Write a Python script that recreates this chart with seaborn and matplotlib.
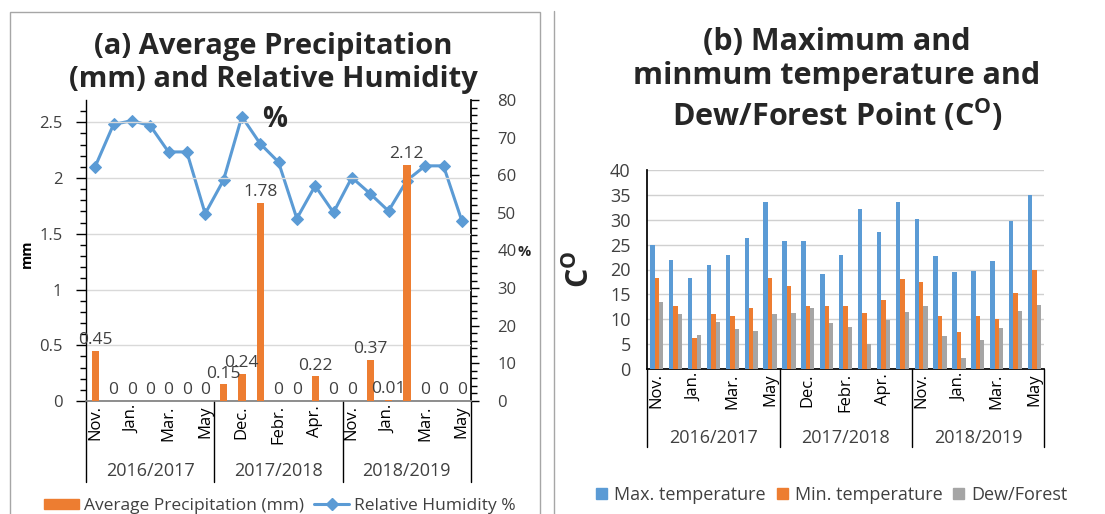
import numpy as np
import pandas as pd
import matplotlib
matplotlib.use("Agg")
import matplotlib.pyplot as plt
import seaborn as sns
from matplotlib.lines import Line2D
from matplotlib.patches import Patch, Rectangle
import matplotlib.transforms as mtransforms

# ---------------- data ----------------
years = ["2016/2017", "2017/2018", "2018/2019"]
months = [
    ["Nov.", "Dec.", "Jan.", "Feb.", "Mar.", "Apr.", "May"],
    ["Nov.", "Dec.", "Jan.", "Febr.", "Mar.", "Apr.", "May"],
    ["Nov.", "Dec.", "Jan.", "Feb.", "Mar.", "Apr.", "May"],
]
precip = [0.45, 0, 0, 0, 0, 0, 0,
          0.15, 0.24, 1.78, 0, 0, 0.22, 0,
          0, 0.37, 0.01, 2.12, 0, 0, 0]
humidity = [62.3, 73.5, 74.5, 73.2, 66.2, 66.2, 49.8,
            58.7, 75.6, 68.4, 63.5, 48.5, 57.2, 50.1,
            59.4, 55.1, 50.5, 58.6, 62.5, 62.5, 47.9]
tmax = [24.9, 21.9, 18.3, 21.0, 23.0, 26.3, 33.5,
        25.7, 25.8, 19.1, 23.0, 32.2, 27.6, 33.6,
        30.2, 22.7, 19.4, 19.6, 21.7, 29.7, 34.9]
tmin = [18.3, 12.7, 6.2, 11.1, 10.6, 12.3, 18.3,
        16.7, 12.6, 12.7, 12.7, 11.3, 13.9, 18.1,
        17.5, 10.7, 7.4, 10.7, 10.0, 15.2, 19.8]
dew = [13.4, 11.1, 6.9, 9.4, 8.0, 7.6, 11.0,
       11.3, 12.3, 9.2, 8.5, 5.0, 9.8, 11.5,
       12.7, 6.7, 2.3, 5.8, 8.2, 11.7, 12.9]
series_names = ["Max. temperature", "Min. temperature", "Dew/Forest"]

BLUE, ORANGE, GRAY = "#5B9BD5", "#ED7D31", "#A5A5A5"
TXT = "#404040"
FONT = "Open Sans"

# ---------------- style ----------------
sns.set_theme(style="white")
plt.rcParams["font.family"] = [FONT, "DejaVu Sans"]
plt.rcParams["mathtext.fontset"] = "custom"
plt.rcParams["mathtext.rm"] = FONT
plt.rcParams["mathtext.bf"] = FONT + ":bold"

W, H = 1105, 514
fig = plt.figure(figsize=(W / 100, H / 100), dpi=100)


def fx(px):
    return px / W


def fy(py):
    return 1 - py / H


flat_months = [m for ym in months for m in ym]
n = len(flat_months)
idx = np.arange(n)
per_year = [len(m) for m in months]

# panel frames
fig.add_artist(Rectangle((fx(9.5), fy(520)), fx(540) - fx(9.5), fy(12) - fy(520),
                         transform=fig.transFigure, fill=False, ec="#A6A6A6", lw=1))
fig.add_artist(Line2D([fx(554), fx(554)], [fy(11), fy(520)],
                      transform=fig.transFigure, color="#A6A6A6", lw=1))

# ================= panel (a) =================
axL = fig.add_axes([fx(86), fy(401), fx(471) - fx(86), fy(100) - fy(401)])
dfp = pd.DataFrame({"pos": idx, "precip": precip})
sns.barplot(data=dfp, x="pos", y="precip", color=ORANGE, width=0.4,
            saturation=1, ax=axL, zorder=3, linewidth=0, edgecolor="none")
axL.set_xlim(-0.5, n - 0.5)
axL.set_ylim(0, 2.7)
axL.set_yticks(np.arange(0, 2.51, 0.5))
axL.set_yticklabels(["0", "0.5", "1", "1.5", "2", "2.5"])
axL.set_yticks(np.arange(0, 2.7, 0.1), minor=True)
axL.yaxis.grid(True, which="major", color="#D9D9D9", lw=1)
axL.set_axisbelow(True)
for b, v in zip(axL.patches, precip):
    axL.annotate(f"{v:g}", (b.get_x() + b.get_width() / 2, v), xytext=(0, 2),
                 textcoords="offset points", ha="center", va="bottom",
                 fontsize=12.5, color=TXT, zorder=5)
axL.set_xlabel("")
axL.set_ylabel("mm", fontsize=10.5, fontweight="bold", color="black")
axL.yaxis.set_label_coords((34 - 86) / 385, 0.49)
for s in ["top", "right"]:
    axL.spines[s].set_visible(False)
axL.spines["left"].set_color("black")
axL.spines["left"].set_linewidth(1)
axL.spines["bottom"].set_color("#808080")
axL.tick_params(axis="y", which="major", left=True, length=7, width=1,
                color="black", labelsize=12, labelcolor=TXT, pad=10)
axL.tick_params(axis="y", which="minor", left=True, length=4, width=1, color="black")

tick_pos = idx[::2]
axL.set_xticks(tick_pos)
axL.set_xticklabels([flat_months[i] for i in tick_pos], rotation=90,
                    fontsize=12, color="black")
axL.tick_params(axis="x", length=0, pad=3)

axR = axL.twinx()
sns.lineplot(x=idx, y=humidity, ax=axR, color=BLUE, lw=2.2, marker="D",
             markersize=6.5, markeredgecolor=BLUE, zorder=4)
axR.set_ylim(0, 80)
axR.set_yticks(np.arange(0, 81, 10))
axR.set_yticks(np.arange(0, 81, 2), minor=True)
for s in ["top", "left", "bottom"]:
    axR.spines[s].set_visible(False)
axR.spines["right"].set_color("black")
axR.tick_params(axis="y", which="major", right=True, length=6, width=1,
                color="black", labelsize=12, labelcolor=TXT, pad=13)
axR.tick_params(axis="y", which="minor", right=True, length=4, width=1, color="black")
axR.set_ylabel("%", rotation=0, fontsize=10.5, fontweight="bold", va="center")
axR.yaxis.set_label_coords(438 / 385, 149 / 301)
axR.set_xlim(-0.5, n - 0.5)
axL.set_zorder(axR.get_zorder() + 1)
axL.patch.set_visible(False)


def year_groups(ax, sep_depth, label_y, fs):
    trans = mtransforms.blended_transform_factory(ax.transData, ax.transAxes)
    edges = np.concatenate([[0], np.cumsum(per_year)]) - 0.5
    for e in edges:
        ax.add_artist(Line2D([e, e], [0, sep_depth], transform=trans, color="black",
                             lw=1, clip_on=False))
    for i, y in enumerate(years):
        c = (edges[i] + edges[i + 1]) / 2
        ax.text(c, label_y, y, transform=trans, ha="center", va="center",
                fontsize=fs, color=TXT, clip_on=False)


year_groups(axL, -81 / 301, -70 / 301, 13)

fig.text(fx(273), fy(63), "(a) Average Precipitation\n(mm) and Relative Humidity",
         ha="center", va="center", fontsize=21, fontweight="bold", linespacing=1.16)
fig.text(fx(275), fy(119), "%", ha="center", va="center", fontsize=20, fontweight="bold")

handlesL = [Patch(color=ORANGE, label="Average Precipitation (mm)"),
            Line2D([], [], color=BLUE, lw=2.2, marker="D", markersize=6,
                   label="Relative Humidity %")]
fig.legend(handles=handlesL, loc="center", bbox_to_anchor=(fx(280), fy(506)),
           ncol=2, frameon=False, fontsize=12.5, handlelength=2.0, handleheight=0.55,
           columnspacing=0.6, handletextpad=0.3, labelcolor=TXT)

# ================= panel (b) =================
axT = fig.add_axes([fx(647.3), fy(369), fx(1044) - fx(647.3), fy(170) - fy(369)])
dft = pd.DataFrame({
    "pos": np.tile(idx, 3),
    "value": tmax + tmin + dew,
    "series": np.repeat(series_names, n),
})
sns.barplot(data=dft, x="pos", y="value", hue="series", hue_order=series_names,
            palette=[BLUE, ORANGE, GRAY], width=0.7, saturation=1, ax=axT,
            legend=False, zorder=3, linewidth=0, edgecolor="none")
axT.set_xlim(-0.5, n - 0.5)
axT.set_ylim(0, 40)
axT.set_yticks(np.arange(0, 41, 5))
axT.yaxis.grid(True, color="#D0D0D0", lw=1)
axT.set_axisbelow(True)
for s in ["top", "right"]:
    axT.spines[s].set_visible(False)
axT.spines["left"].set_color("black")
axT.spines["bottom"].set_color("black")
axT.tick_params(axis="y", length=0, labelsize=13, labelcolor=TXT, pad=12)
axT.set_xticks(tick_pos)
axT.set_xticklabels([flat_months[i] for i in tick_pos], rotation=90,
                    fontsize=12, color="black")
axT.tick_params(axis="x", length=0, pad=3)
axT.set_xlabel("")
axT.set_ylabel(r"C$^{\mathbf{O}}$", fontsize=22, fontweight="bold")
axT.yaxis.set_label_coords((596 - 647.3) / 396.7, 0.5)

year_groups(axT, -78 / 199, -69 / 199, 13)

fig.text(fx(837), fy(80),
         "(b) Maximum and\nminmum temperature and\nDew/Forest Point (C$^{\\mathbf{O}}$)",
         ha="center", va="center", fontsize=22, fontweight="bold", linespacing=1.2)

handlesT = [Patch(color=c, label=l) for c, l in zip([BLUE, ORANGE, GRAY], series_names)]
fig.legend(handles=handlesT, loc="center", bbox_to_anchor=(fx(832), fy(495)),
           ncol=3, frameon=False, fontsize=13, handlelength=0.6, handleheight=0.6,
           columnspacing=0.6, handletextpad=0.4, labelcolor=TXT)

fig.savefig("out.png", dpi=100)
